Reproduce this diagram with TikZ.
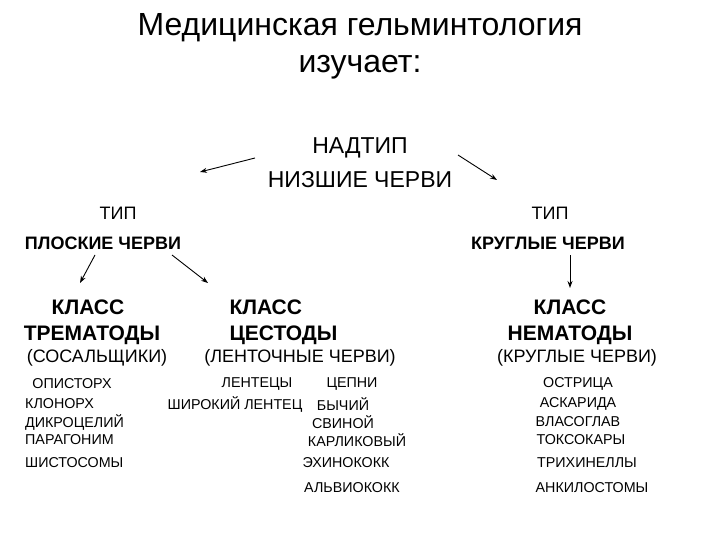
\documentclass[tikz,border=0pt]{standalone}
\usepackage{fontspec}
\setmainfont{Liberation Sans}
\usetikzlibrary{arrows.meta}
\begin{document}
\begin{tikzpicture}[x=1pt,y=-1pt,
  ttl/.style={font=\fontsize{32}{36}\selectfont, align=center},
  mid/.style={font=\fontsize{23}{26}\selectfont},
  tip/.style={font=\fontsize{18}{21}\selectfont},
  tipb/.style={font=\bfseries\fontsize{18}{21}\selectfont},
  cls/.style={font=\bfseries\fontsize{21}{24}\selectfont},
  sm/.style={font=\fontsize{14.3}{16}\selectfont, inner sep=0},
  arr/.style={-{Stealth[length=7pt,width=5pt]}, line width=0.9pt}]
\useasboundingbox (0,0) rectangle (720,540);
\node[ttl] (t1) at (360,28) {Медицинская гельминтология};
\node[ttl] (t2) at (360,67) {изучает:};
\node[mid] (n1) at (360,148) {НАДТИП};
\node[mid] (n2) at (360,180) {НИЗШИЕ ЧЕРВИ};
\coordinate (a1s) at (255,158); \coordinate (a1e) at (200,172);
\coordinate (a2s) at (458,155); \coordinate (a2e) at (497,180);
\draw[arr] (a1s) -- (a1e);
\draw[arr] (a2s) -- (a2e);
\node[tip] (tl) at (118,213) {ТИП};
\node[tip] (tr) at (550,213) {ТИП};
\node[tipb] (pl) at (103,243) {ПЛОСКИЕ ЧЕРВИ};
\node[tipb] (kr) at (548,243) {КРУГЛЫЕ ЧЕРВИ};
\coordinate (b1s) at (95,255); \coordinate (b1e) at (80,283);
\coordinate (b2s) at (172,255); \coordinate (b2e) at (208,283);
\coordinate (b3s) at (570,255); \coordinate (b3e) at (570,288);
\draw[arr] (b1s) -- (b1e);
\draw[arr] (b2s) -- (b2e);
\draw[arr] (b3s) -- (b3e);
\node[cls] (c1) at (88,307) {КЛАСС};
\node[cls] (c2) at (92,335) {ТРЕМАТОДЫ};
\node[cls,anchor=west] (c3) at (226,307) {КЛАСС};
\node[cls,anchor=west] (c4) at (226,335) {ЦЕСТОДЫ};
\node[cls] (c5) at (570,307) {КЛАСС};
\node[cls] (c6) at (570,335) {НЕМАТОДЫ};
\node[tip] (s1) at (97,358) {(СОСАЛЬЩИКИ)};
\node[tip] (s2) at (300,358) {(ЛЕНТОЧНЫЕ ЧЕРВИ)};
\node[tip] (s3) at (577,358) {(КРУГЛЫЕ ЧЕРВИ)};
\node[sm] (l1) at (72,384) {ОПИСТОРХ};
\node[sm,anchor=west] (l2) at (25,404) {КЛОНОРХ};
\node[sm,anchor=west] (l3) at (25,422) {ДИКРОЦЕЛИЙ};
\node[sm,anchor=west] (l4) at (25,440) {ПАРАГОНИМ};
\node[sm,anchor=west] (l5) at (25,463) {ШИСТОСОМЫ};
\node[sm] (m1) at (257,384) {ЛЕНТЕЦЫ};
\node[sm] (m2) at (235,404) {ШИРОКИЙ ЛЕНТЕЦ};
\node[sm] (m3) at (352,384) {ЦЕПНИ};
\node[sm] (m4) at (343,404) {БЫЧИЙ};
\node[sm] (m5) at (343,422) {СВИНОЙ};
\node[sm] (m6) at (357,440) {КАРЛИКОВЫЙ};
\node[sm] (m7) at (346,463) {ЭХИНОКОКК};
\node[sm] (m8) at (352,488) {АЛЬВИОКОКК};
\node[sm] (r1) at (578,384) {ОСТРИЦА};
\node[sm] (r2) at (578,404) {АСКАРИДА};
\node[sm] (r3) at (578,422) {ВЛАСОГЛАВ};
\node[sm] (r4) at (581,440) {ТОКСОКАРЫ};
\node[sm] (r5) at (587,463) {ТРИХИНЕЛЛЫ};
\node[sm] (r6) at (592,488) {АНКИЛОСТОМЫ};
\end{tikzpicture}
\end{document}
